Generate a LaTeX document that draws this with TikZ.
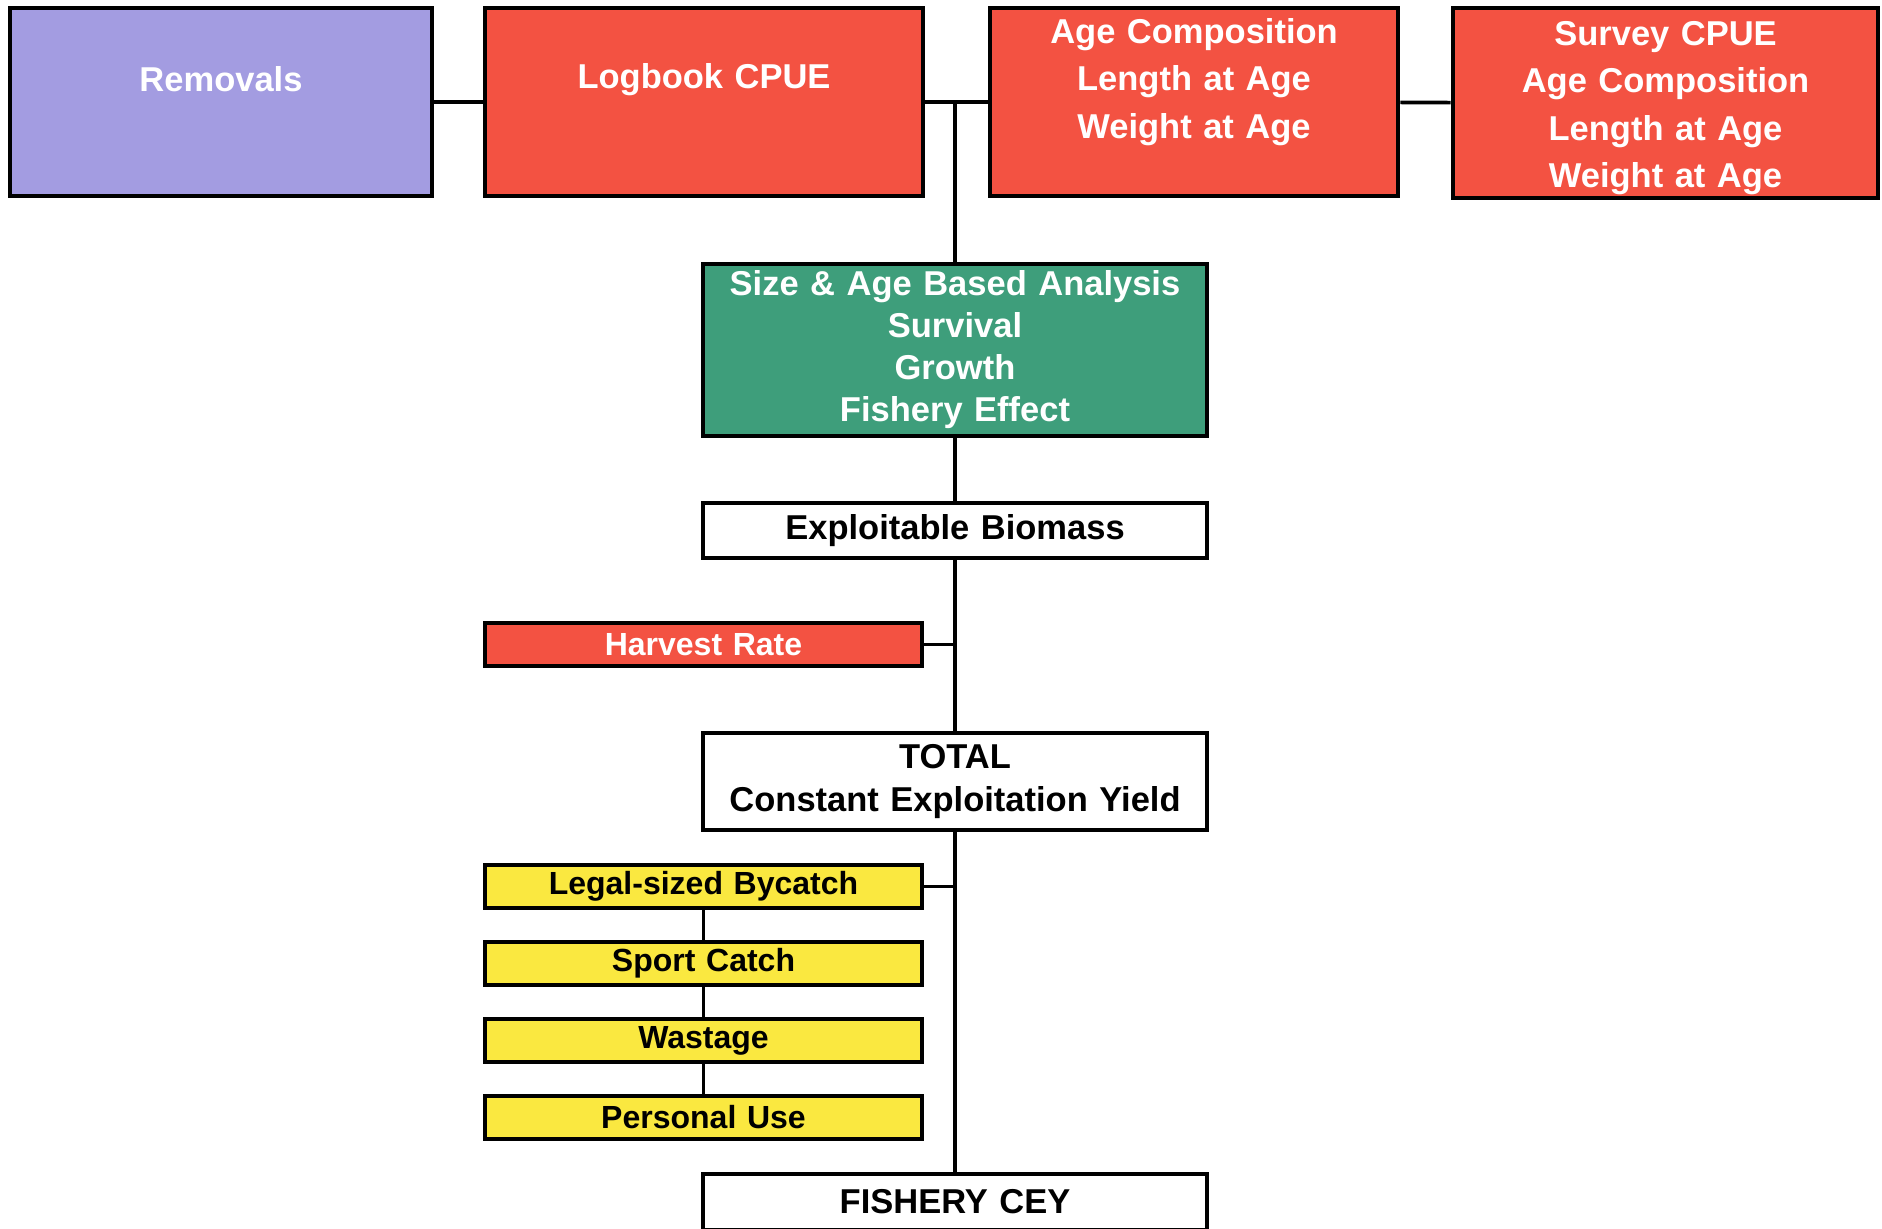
\documentclass[tikz,border=0pt]{standalone}
\usepackage{fontspec}
\setmainfont{Liberation Sans}
\usepackage{xcolor}
\usepackage{tikz}
\usetikzlibrary{positioning}
\definecolor{removal}{RGB}{163,156,225}
\definecolor{datared}{RGB}{243,82,66}
\definecolor{modelgreen}{RGB}{62,158,123}
\definecolor{catchyellow}{RGB}{250,232,64}

\begin{document}
\begin{tikzpicture}[
  x=0.5pt,y=-0.5pt,
  box/.style={draw=black,line width=2.3pt,inner sep=0pt,align=center,
    font=\bfseries\fontsize{17.25}{21}\selectfont},
  topbox/.style={box,text=white,font=\bfseries\fontsize{17.25}{23.8}\selectfont},
  midbox/.style={box,fill=white,text width=252pt},
  smallbox/.style={box,text width=218.5pt,minimum height=21.5pt,
    font=\bfseries\fontsize{16}{19}\selectfont},
  catchbox/.style={smallbox,fill=catchyellow},
  link/.style={line width=1.8pt}
]
\useasboundingbox (0,0) rectangle (1882,1228);
% data inputs
\node[topbox,fill=removal,text width=211pt,text height=41.5pt,text depth=52.5pt] (rem) at (221,102) {Removals};
\node[topbox,fill=datared,text width=219pt,text height=40pt,text depth=54pt] (log) at (704,102) {Logbook CPUE};
\node[topbox,fill=datared,text width=204pt,text height=17.5pt,text depth=76.5pt] (age) at (1194,102) {Age Composition\\ Length at Age\\ Weight at Age};
\node[topbox,fill=datared,text width=212.5pt,text height=18.5pt,text depth=76.5pt] (srv) at (1665.5,103) {Survey CPUE\\ Age Composition\\ Length at Age\\ Weight at Age};
% model and yield
\node[midbox,fill=modelgreen,text=white,minimum height=86pt] (sab) at (955,350) {Size \& Age Based Analysis\\ Survival\\ Growth\\ Fishery Effect};
\node[midbox,minimum height=27.5pt] (bio) at (955,530.5) {Exploitable Biomass};
\node[smallbox,fill=datared,text=white] (hr) at (703.5,644.5) {Harvest Rate};
\node[midbox,minimum height=48.5pt,font=\bfseries\fontsize{17.25}{21.5}\selectfont] (tot) at (955,781.5) {TOTAL\\ Constant Exploitation Yield};
% catches taken off
\node[catchbox] (byc) at (703.5,886.5) {Legal-sized Bycatch};
\node[catchbox] (spt) at (703.5,963.5) {Sport Catch};
\node[catchbox] (wst) at (703.5,1040.5) {Wastage};
\node[catchbox] (pu) at (703.5,1117.5) {Personal Use};
\node[midbox,minimum height=28pt] (cey) at (955,1202) {FISHERY CEY};
\draw[link] (rem)--(log); \draw[link] (log)--(age); \draw[link] (age)--(srv);
\draw[link] (sab.north)--(sab.north |- log.east);
\draw[link] (sab)--(bio); \draw[link] (bio)--(tot); \draw[link] (tot)--(cey);
\draw[link] (hr.east)--(hr.east -| bio.south);
\draw[link] (byc.east)--(byc.east -| tot.south);
\draw[link] (byc)--(spt); \draw[link] (spt)--(wst); \draw[link] (wst)--(pu);
\end{tikzpicture}
\end{document}
